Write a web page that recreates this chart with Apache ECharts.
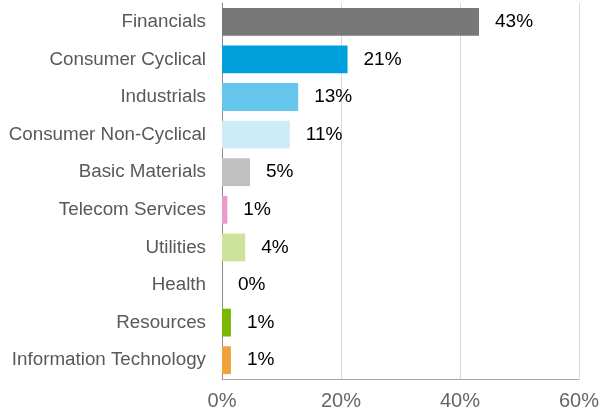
<!DOCTYPE html>
<html>
<head>
<meta charset="utf-8">
<script src="https://cdn.jsdelivr.net/npm/echarts@6/dist/echarts.min.js"></script>
<style>
html,body{margin:0;padding:0;background:#fff;}
#chart{width:602px;height:419px;}
</style>
</head>
<body>
<div id="chart"></div>
<script>
// 数据
var categories = ['Financials', 'Consumer Cyclical', 'Industrials', 'Consumer Non-Cyclical', 'Basic Materials',
    'Telecom Services', 'Utilities', 'Health', 'Resources', 'Information Technology'];
var values = [43.2, 21.1, 12.8, 11.4, 4.7, 0.9, 3.9, 0, 1.5, 1.5];
var labels = ['43%', '21%', '13%', '11%', '5%', '1%', '4%', '0%', '1%', '1%'];
var colors = ['#787878', '#00a0dc', '#66c5ea', '#cdecf8', '#c0c0c0', '#e99bcb', '#cce39c', '#ffffff', '#7ab800', '#f0a03c'];
var xTicks = ['0%', '20%', '40%', '60%'];

var myChart = echarts.init(document.getElementById('chart'));

var option = {
    animation: false,
    grid: {left: 222, right: 22, top: 3, bottom: 40},
    xAxis: {
        type: 'value',
        min: 0,
        max: 60,
        interval: 20,
        axisLine: {show: true, lineStyle: {color: '#a6a6a6', width: 1}},
        axisTick: {show: false},
        splitLine: {show: true, lineStyle: {color: '#d9d9d9', width: 1}},
        axisLabel: {
            color: '#666',
            fontSize: 20,
            fontFamily: 'Liberation Sans',
            margin: 12,
            formatter: function (v) { return xTicks[v / 20]; }
        }
    },
    yAxis: {
        type: 'category',
        inverse: true,
        data: categories,
        axisLine: {show: true, lineStyle: {color: '#8c8c8c', width: 1}},
        axisTick: {show: false},
        axisLabel: {
            color: '#595959',
            fontSize: 18.8,
            fontFamily: 'Liberation Sans',
            margin: 16
        }
    },
    series: [{
        type: 'bar',
        barWidth: '74%',
        data: values.map(function (v, i) {
            return {value: v, itemStyle: {color: colors[i]}};
        }),
        label: {
            show: true,
            position: 'right',
            distance: 16,
            color: '#000',
            fontSize: 19,
            fontFamily: 'Liberation Sans',
            formatter: function (p) { return labels[p.dataIndex]; }
        }
    }]
};
myChart.setOption(option);
</script>
</body>
</html>
